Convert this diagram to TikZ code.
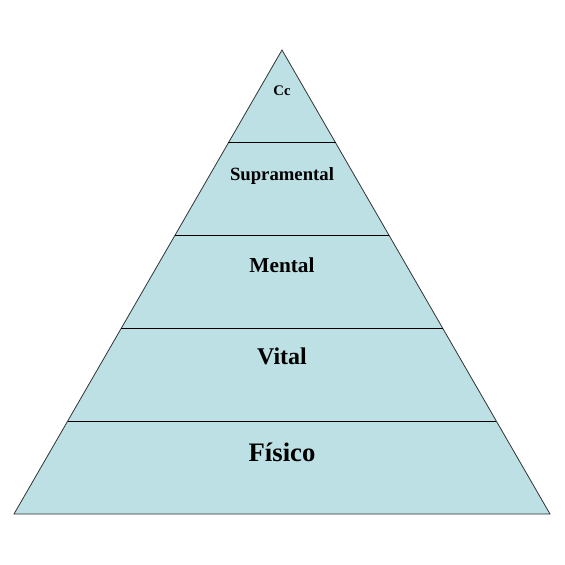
\documentclass[tikz,border=0pt]{standalone}
\usepackage{fontspec}
\setmainfont{Liberation Serif}
\usetikzlibrary{calc}
\tikzset{
    %Define fill colour of the pyramid
    piramide/.style={
           fill={rgb,255:red,188;green,224;blue,227},
           draw=black!80, line width=0.8pt},
    %Define style for band lines
    faixa/.style={
           draw=black, line width=0.8pt},
    % Define style for the labels
    nivel/.style={
           font=\bfseries,
           inner sep=0pt,
           anchor=center}
}
\begin{document}
\begin{tikzpicture}[x=1pt,y=-1pt]
    \useasboundingbox (0,0) rectangle (565,565);
    \coordinate (topo) at (282,50);
    \coordinate (esq) at (14,514);
    \coordinate (dir) at (550,514);
    \path[piramide] (topo) -- (esq) -- (dir) -- cycle;
    \foreach \i in {1,...,4}
      \draw[faixa] ($(topo)!\i/5!(esq)$) -- ($(topo)!\i/5!(dir)$);
    \node (cc) [nivel] at (282,91) {\fontsize{14.7}{16}\selectfont Cc};
    \node (supra) [nivel] at (282,176) {\fontsize{18.7}{20}\selectfont Supramental};
    \node (mental) [nivel] at (282,265) {\fontsize{21.3}{23}\selectfont Mental};
    \node (vital) [nivel] at (282,356) {\fontsize{24}{26}\selectfont Vital};
    \node (fisico) [nivel] at (282,452) {\fontsize{26.7}{29}\selectfont Físico};
\end{tikzpicture}
\end{document}
